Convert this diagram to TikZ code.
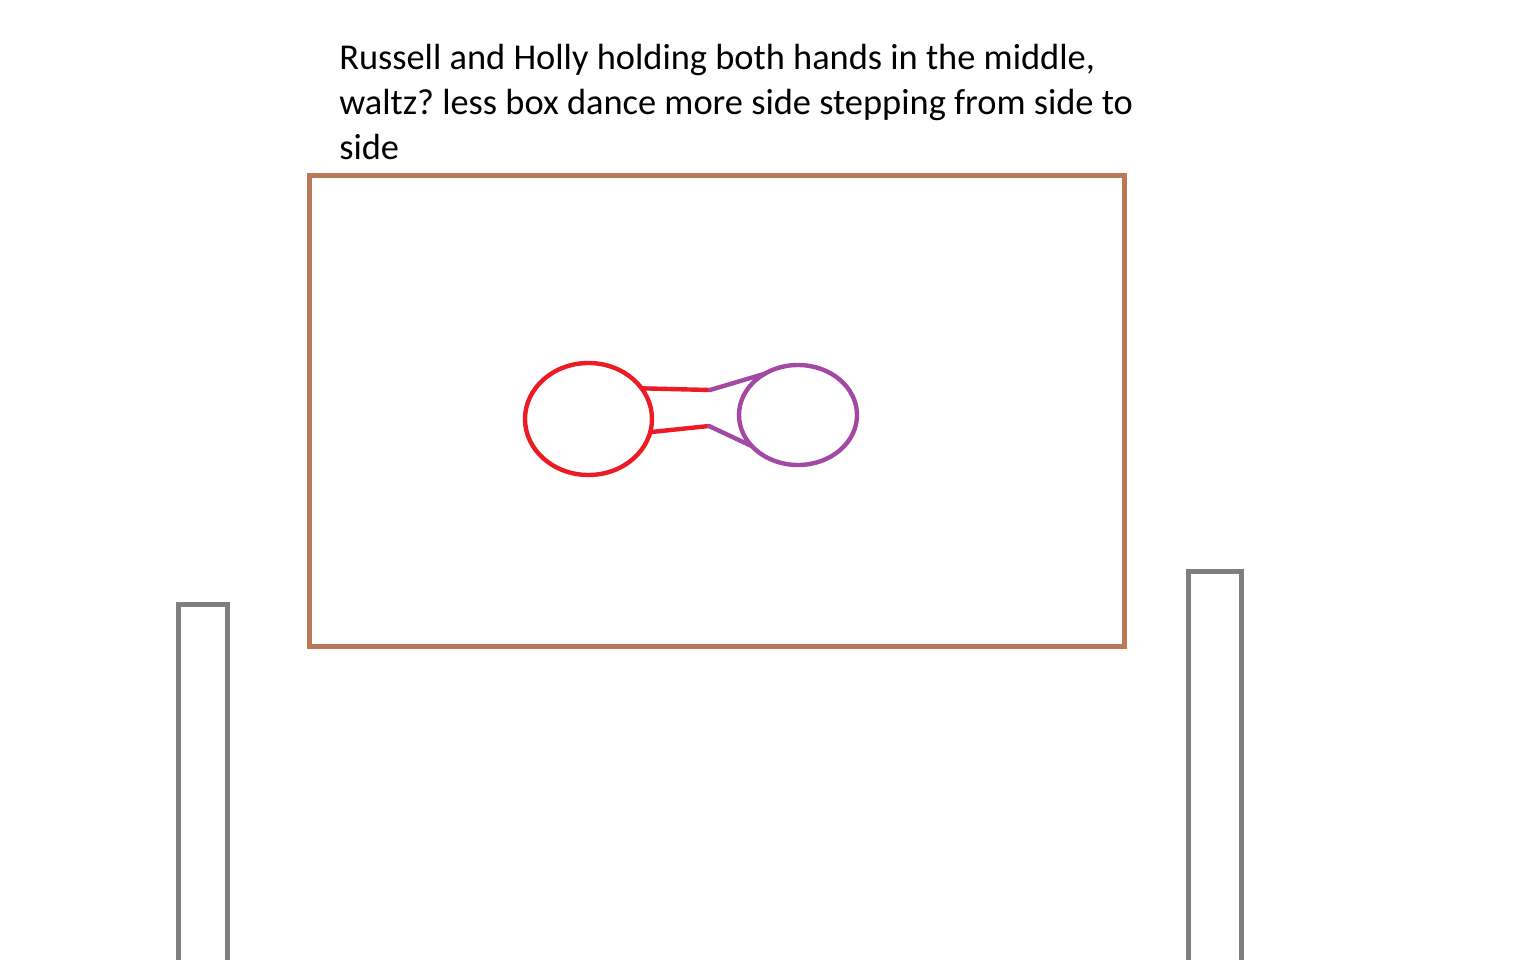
\documentclass[tikz,border=0pt]{standalone}
\usepackage{fontspec}
\setmainfont{Carlito}
\usetikzlibrary{shapes.geometric}
\definecolor{tblbrown}{HTML}{B97A57}
\definecolor{wallgray}{HTML}{7F7F7F}
\definecolor{russred}{HTML}{ED1C24}
\definecolor{hollypurple}{HTML}{A349A4}
\tikzset{
  table/.style={draw=tblbrown, line width=3.75pt},
  wall/.style={draw=wallgray, line width=3.75pt},
  dancer/.style={ellipse, draw, line width=3.3pt, inner sep=0pt, outer sep=0pt},
  arm/.style={line width=3.3pt, line cap=round, line join=round},
  note/.style={anchor=base west, inner sep=0pt, font=\fontsize{27.3pt}{33pt}\selectfont}
}
\frenchspacing
\begin{document}
\begin{tikzpicture}[x=0.75pt, y=-0.75pt]
\useasboundingbox (0,0) rectangle (1536,960);
\fill[white] (0,0) rectangle (1536,960);
% text
\node[note] (t1) at (339,69) {Russell and Holly holding both hands in the middle,};
\node[note] (t2) at (339,114) {waltz? less box dance more side stepping from side to};
\node[note] (t3) at (339,159) {side};
% table / dance area
\draw[table] (309,175.5) rectangle (1124,646.5);
% walls
\draw[wall] (178.5,960) -- (178.5,604) -- (227.5,604) -- (227.5,960);
\draw[wall] (1188.3,960) -- (1188.3,571.5) -- (1241.7,571.5) -- (1241.7,960);
% dancers
\node[dancer, draw=russred, minimum width=95.25pt, minimum height=84pt] (russell) at (588.5,419) {};
\node[dancer, draw=hollypurple, minimum width=88.5pt, minimum height=75pt] (holly) at (798,415) {};
\coordinate (handA) at (710,390);
\coordinate (handB) at (709,426);
\draw[arm, russred] (russell.30) -- (handA);
\draw[arm, russred] (russell.-12) -- (handB);
\draw[arm, hollypurple] (handA) -- (holly.129);
\draw[arm, hollypurple] (handB) -- (holly.214);
\end{tikzpicture}
\end{document}
